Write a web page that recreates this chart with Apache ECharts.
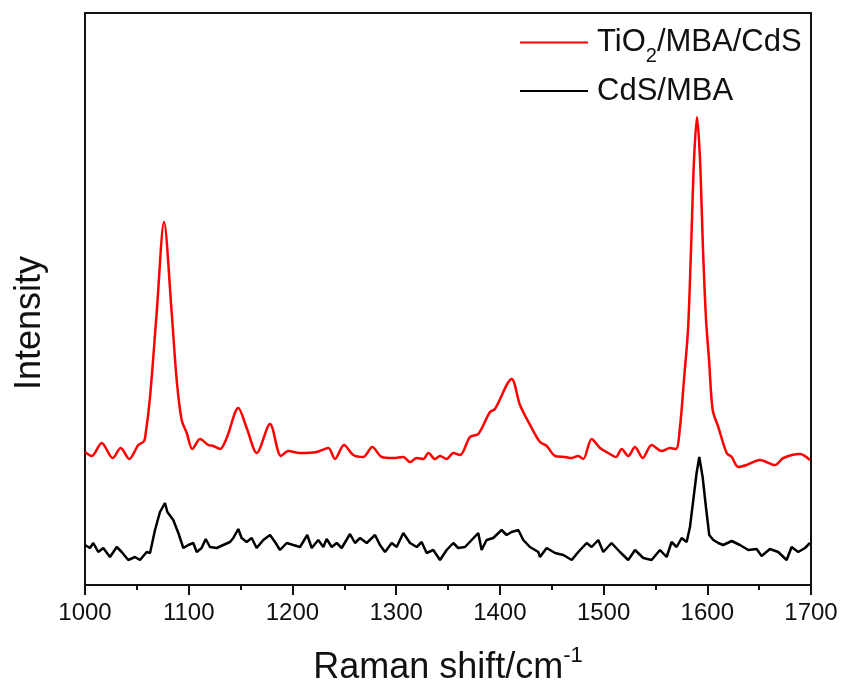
<!DOCTYPE html>
<html>
<head>
<meta charset="utf-8">
<title>Raman spectra</title>
<script src="https://cdn.jsdelivr.net/npm/echarts@6/dist/echarts.min.js"></script>
<style>
  html, body { margin: 0; padding: 0; background: #fff; }
  #chart { width: 847px; height: 694px; }
</style>
</head>
<body>
<div id="chart"></div>
<script>
// TiO2/MBA/CdS (red) - raman shift (cm-1) and intensity (a.u.)
const shiftTiO2 = [1000, 1006.5, 1016.1, 1026.7, 1034.4, 1042.7, 1051.4, 1056.2, 1057.9, 1062.7,
  1069.1, 1076.2, 1083.6, 1088.4, 1093.2, 1098.1, 1103.5, 1110.9, 1118.9, 1123.7,
  1130.2, 1136.6, 1147.8, 1155.9, 1165.6, 1178.4, 1189.0, 1196.0, 1207.3, 1223.4,
  1234.6, 1241.0, 1249.7, 1258.7, 1268.3, 1277.0, 1286.1, 1297.3, 1306.9, 1313.4,
  1319.8, 1326.2, 1331.0, 1337.5, 1342.3, 1348.7, 1355.1, 1361.6, 1371.2, 1379.2,
  1390.5, 1395.3, 1411.4, 1419.4, 1430.7, 1438.7, 1445.2, 1453.2, 1462.8, 1469.3,
  1475.6, 1480.4, 1488.5, 1496.6, 1504.5, 1512.0, 1517.4, 1523.8, 1530.3, 1537.7,
  1546.3, 1556.0, 1564.0, 1569.8, 1573.7, 1577.5, 1581.4, 1584.3, 1587.2, 1590.1,
  1593.0, 1595.9, 1598.8, 1601.7, 1605.2, 1610.6, 1618.7, 1623.5, 1629.9, 1637.9,
  1650.8, 1665.3, 1673.3, 1689.4, 1699.0];
const intensityTiO2 = [133, 129, 142, 127, 137, 126, 140, 143, 147, 188,
  272, 363, 272, 205, 165, 152, 136, 146, 140, 139,
  136, 147, 177, 157, 132, 161, 129, 134, 132, 133,
  137, 126, 140, 130, 128, 138, 128, 127, 128, 123,
  127, 126, 132, 126, 129, 126, 132, 130, 148, 151,
  173, 176, 206, 180, 157, 143, 139, 129, 128, 127,
  129, 126, 146, 137, 132, 128, 136, 129, 138, 127,
  140, 134, 137, 136, 158, 205, 255, 335, 425, 468,
  425, 335, 265, 225, 175, 158, 132, 128, 118, 120,
  125, 120, 127, 131, 125];

// CdS/MBA (black)
const shiftCdS = [1000, 1004.8, 1008.0, 1012.8, 1017.6, 1024.1, 1030.6, 1035.4, 1041.7, 1048.2,
  1053.0, 1059.5, 1062.7, 1067.5, 1072.3, 1077.1, 1079.4, 1085.1, 1090.0, 1094.8,
  1099.6, 1104.4, 1107.7, 1112.4, 1116.4, 1120.5, 1127.0, 1133.3, 1139.8, 1143.0,
  1147.8, 1151.0, 1155.9, 1160.7, 1165.5, 1171.9, 1178.4, 1183.2, 1188.0, 1194.5,
  1200.8, 1207.3, 1214.3, 1218.6, 1224.9, 1229.8, 1233.0, 1237.9, 1242.7, 1247.5,
  1255.5, 1260.3, 1265.2, 1271.6, 1279.6, 1284.4, 1289.3, 1295.7, 1300.5, 1306.9,
  1313.4, 1319.8, 1324.6, 1329.4, 1335.8, 1342.3, 1348.7, 1355.1, 1359.9, 1366.4,
  1372.8, 1379.2, 1382.4, 1387.2, 1393.6, 1401.7, 1406.5, 1411.3, 1417.8, 1422.6,
  1429.0, 1437.1, 1438.7, 1445.1, 1453.2, 1461.2, 1469.3, 1475.6, 1483.7, 1488.5,
  1494.9, 1499.7, 1507.7, 1515.8, 1523.8, 1530.3, 1538.3, 1546.3, 1554.4, 1560.8,
  1565.6, 1570.4, 1575.3, 1580.1, 1583.3, 1586.5, 1589.7, 1592.3, 1595.5, 1598.7,
  1601.9, 1605.8, 1610.6, 1615.4, 1623.5, 1631.5, 1639.5, 1647.6, 1652.4, 1660.4,
  1668.4, 1676.5, 1681.3, 1687.7, 1694.2, 1699.0];
const intensityCdS = [40, 37, 42, 33, 37, 28, 38, 33, 25, 28,
  25, 33, 32, 55, 73, 82, 73, 65, 52, 37,
  40, 42, 33, 37, 46, 38, 37, 40, 43, 47,
  56, 47, 43, 47, 37, 45, 50, 43, 35, 42,
  40, 38, 50, 37, 45, 38, 46, 38, 42, 37,
  51, 42, 47, 42, 50, 40, 33, 42, 38, 52,
  42, 38, 43, 32, 35, 25, 35, 42, 37, 38,
  45, 52, 35, 45, 47, 55, 50, 53, 55, 45,
  38, 33, 28, 37, 32, 30, 25, 33, 42, 38,
  45, 33, 42, 33, 25, 35, 27, 25, 35, 28,
  43, 38, 47, 43, 58, 85, 112, 128, 108, 78,
  50, 45, 42, 40, 44, 40, 35, 36, 29, 36,
  33, 25, 38, 33, 37, 42];

const seriesNames = ['TiO2/MBA/CdS', 'CdS/MBA'];
const seriesColors = ['#ff0000', '#000000'];

const zip = (xs, ys) => xs.map((x, i) => [x, ys[i]]);

const font = 'Liberation Sans, Arial, sans-serif';
const chart = echarts.init(document.getElementById('chart'));

chart.setOption({
  animation: false,
  backgroundColor: '#fff',
  grid: {
    left: 85, right: 36, top: 13, bottom: 109,
    show: true, borderColor: '#111', borderWidth: 2
  },
  legend: {
    orient: 'vertical',
    left: 515,
    top: 22,
    itemGap: 9,
    itemWidth: 68,
    itemHeight: 2,
    icon: 'rect',
    data: seriesNames,
    formatter: name => name === 'TiO2/MBA/CdS' ? 'TiO{sub|2}/MBA/CdS' : name,
    textStyle: {
      fontFamily: font, fontSize: 31, color: '#111', padding: [0, 0, 0, 4],
      rich: {
        sub: { fontFamily: font, fontSize: 20, color: '#111', padding: [28, 0, 0, 0] }
      }
    }
  },
  xAxis: {
    type: 'value',
    min: 1000, max: 1700, interval: 100,
    name: 'Raman shift/cm{sup|-1}',
    nameLocation: 'middle',
    nameGap: 60,
    nameTextStyle: {
      fontFamily: font, fontSize: 36, color: '#111',
      rich: { sup: { fontFamily: font, fontSize: 22, color: '#111', padding: [0, 0, 24, 0] } }
    },
    axisLine: { lineStyle: { color: '#111', width: 2 } },
    axisTick: { length: 10, lineStyle: { color: '#111', width: 2 } },
    minorTick: { show: true, splitNumber: 2, length: 5, lineStyle: { color: '#111', width: 2 } },
    axisLabel: { fontFamily: font, fontSize: 24, color: '#111', margin: 16, formatter: v => String(v) },
    splitLine: { show: false }
  },
  yAxis: {
    type: 'value',
    min: 0, max: 572,
    name: 'Intensity',
    nameLocation: 'middle',
    nameGap: 37,
    nameTextStyle: { fontFamily: font, fontSize: 36, color: '#111', padding: [0, 48, 0, 0] },
    axisLine: { show: true, lineStyle: { color: '#111', width: 2 } },
    axisTick: { show: false },
    axisLabel: { show: false },
    splitLine: { show: false }
  },
  series: [
    {
      name: seriesNames[0], type: 'line', symbol: 'none', smooth: 0.3,
      lineStyle: { color: seriesColors[0], width: 2.5 }, itemStyle: { color: seriesColors[0] },
      data: zip(shiftTiO2, intensityTiO2)
    },
    {
      name: seriesNames[1], type: 'line', symbol: 'none',
      lineStyle: { color: seriesColors[1], width: 2.5 }, itemStyle: { color: seriesColors[1] },
      data: zip(shiftCdS, intensityCdS)
    }
  ]
});
</script>
</body>
</html>
